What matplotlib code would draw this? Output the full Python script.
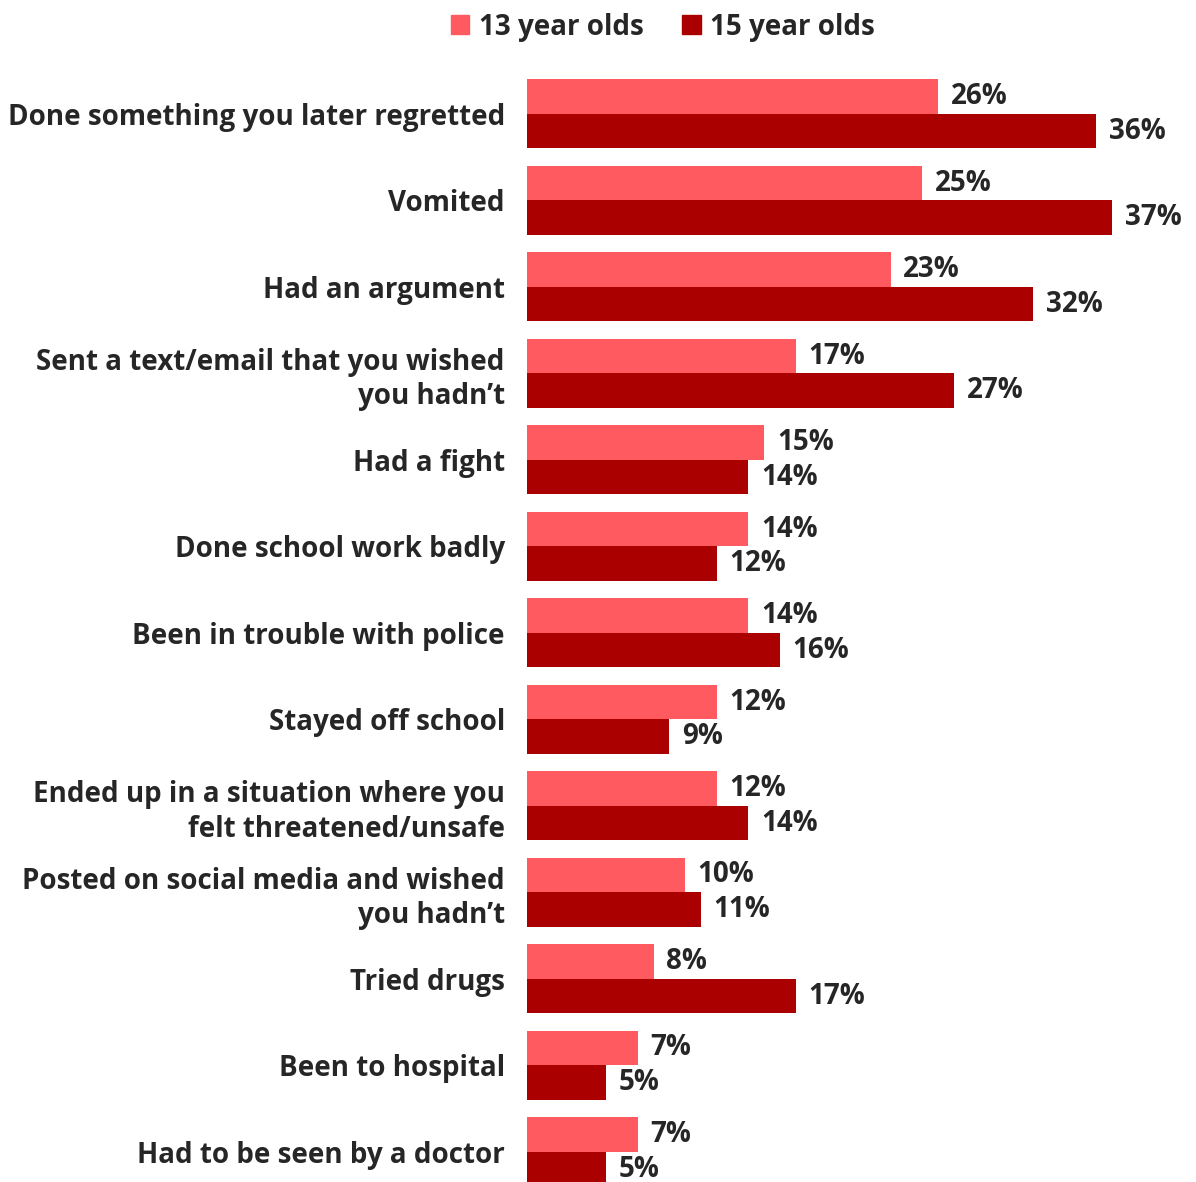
import numpy as np
import matplotlib.pyplot as plt
from matplotlib.patches import Patch

plt.rcParams['font.family'] = ['Open Sans', 'DejaVu Sans']

categories = [
    "Done something you later regretted",
    "Vomited",
    "Had an argument",
    "Sent a text/email that you wished\nyou hadn\u2019t",
    "Had a fight",
    "Done school work badly",
    "Been in trouble with police",
    "Stayed off school",
    "Ended up in a situation where you\nfelt threatened/unsafe",
    "Posted on social media and wished\nyou hadn\u2019t",
    "Tried drugs",
    "Been to hospital",
    "Had to be seen by a doctor",
]
age13 = [26, 25, 23, 17, 15, 14, 14, 12, 12, 10, 8, 7, 7]
age15 = [36, 37, 32, 27, 14, 12, 16, 9, 14, 11, 17, 5, 5]
series_names = ["13 year olds", "15 year olds"]

light = "#FF5A5F"
dark = "#AA0000"
txt = "#262626"

fig = plt.figure(figsize=(11.96, 11.82), dpi=100)
ax = fig.add_axes([527 / 1196, 0, 669 / 1196, 1120 / 1182])

y = np.arange(len(categories))
h = 0.4
ax.barh(y - h / 2, age13, height=h, color=light)
ax.barh(y + h / 2, age15, height=h, color=dark)

for yi, v in zip(y - h / 2, age13):
    ax.text(v + 0.8, yi, f"{v}%", va="center", ha="left",
            fontsize=20, fontweight="bold", color=txt)
for yi, v in zip(y + h / 2, age15):
    ax.text(v + 0.8, yi, f"{v}%", va="center", ha="left",
            fontsize=20, fontweight="bold", color=txt)

ax.set_xlim(0, 42.3)
ax.set_ylim(12.35, -0.6)
ax.set_yticks(y)
ax.set_yticklabels(categories, fontsize=20, fontweight="bold", color=txt,
                   ha="right", linespacing=1.25)
ax.tick_params(axis="y", length=0, pad=16)
ax.set_xticks([])
for s in ax.spines.values():
    s.set_visible(False)

handles = [Patch(color=light), Patch(color=dark)]
leg = fig.legend(handles, series_names, loc="center", bbox_to_anchor=(663 / 1196, 1 - 27 / 1182),
                 ncol=2, frameon=False, handlelength=0.65, handleheight=0.65,
                 handletextpad=0.35, columnspacing=1.4,
                 prop={"size": 20, "weight": "bold"})
for t in leg.get_texts():
    t.set_color(txt)

fig.savefig("out.png", dpi=100)
